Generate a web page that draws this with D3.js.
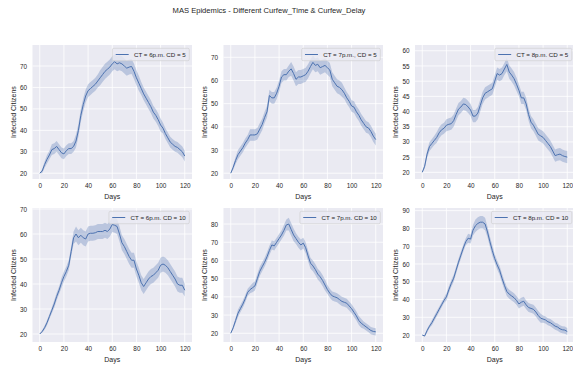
<!DOCTYPE html>
<html>
<head>
<meta charset="utf-8">
<script src="https://cdn.jsdelivr.net/npm/d3@7"></script>
<style>
  body { margin: 0; background: #fff; }
  text { font-family: "Liberation Sans", Arial, sans-serif; fill: #262626; }
</style>
</head>
<body>
<div id="chart"></div>
<script>
// DATA //
// days sampled every 2 days, 0..120
const days = d3.range(0, 121, 2);

const labels = ["CT = 6p.m. CD = 5", "CT = 7p.m., CD = 5", "CT = 8p.m. CD = 5",
                "CT = 6p.m. CD = 10", "CT = 7p.m. CD = 10", "CT = 8p.m. CD = 10"];

// mean infected citizens
const mean1 = [20,21,24,26.5,28.5,31,31.5,32.5,31,29.5,29,30.5,31.5,31.5,32.5,35,40,47,52,56,58.5,59.5,60.5,61.5,63,64.5,66,67.5,68.5,69.5,71,72,71,71.5,71,70,69,69.5,69.8,67.5,64.5,62,59.5,57,55,53,51,48.5,47,45,42.5,41,38.5,36.5,34.5,33.5,32.5,32,31,30,28];
const mean2 = [20,22.5,25.5,28,29.5,31,33,34.5,36.5,36.5,36.5,37,39,41,44,46.5,53.5,52.5,52.5,54.5,57.5,61.5,62.5,62.5,64,65,63,60.5,61.5,61.5,62,62.5,64,66,67.8,66.5,67,65.5,66,66.5,65.5,64.5,60.5,59,57.5,57,56,54.5,52.5,51,49,48.5,46.5,45,43,41.5,40,39.5,38,36,34.5];
const mean3 = [20,22,26,28.5,29.5,30.5,31.5,33,34,34.5,35.5,35.8,36,37,39,40.8,41.5,42.5,42.3,41.5,40.5,38.5,38.5,39.5,42,44.5,46,46.5,47,47.5,50,52.5,52,52.5,54,55.5,53,52,50.8,49,47,44.5,44.5,42.5,39,36.5,35.5,34,32.5,32,31.5,30.5,29.5,28.5,27,25.5,25.8,26,25.5,25.2,25];
const mean4 = [20,21,22.5,24.5,27,29.5,32,35,37.5,40.5,43,45,47.5,53,58.5,60,58.5,59.5,58.5,58,60,60.3,60.3,60.5,61,61,61,61.5,61,62,63.8,63.5,63,60,56.5,55,53,51,49.5,49.5,46,43.5,40.5,39,40.5,42,43,43.5,44.5,45.5,47.5,48,47.5,46.5,45,43.5,42,40,39.5,39.5,37.5];
const mean5 = [20,23,27,31,33.5,36,39,42.5,44,45,46,50,54,56.5,59,62,65.5,68.5,68,70,72,74,76.5,79.5,80,77,74,72,70,68.5,69.5,67,62.5,58.5,57,55,52.5,51,49,46.5,44,42,40.5,40,39.5,38.5,37.5,37,36.5,35,33.5,31.5,29.5,27,25.5,24.5,23.5,22.5,21.5,21,20.8];
const mean6 = [20,19.5,22.5,25,27,29.5,32,34.5,37,39.5,41.5,45.5,49,52,56.5,61,65,69,72.5,74.5,74,79,81.5,82.8,83.5,83.5,82.5,78,72.5,67.5,63,59.5,56.5,52,48,44.5,43,42,41,39.5,37.5,38.5,39,37,35.5,35,34.5,33,31,29.5,29,28.5,27.5,27,26,25,24.5,23.5,23,22.8,22];

// half width of the confidence band
const band1 = [0,1,1.5,2,2,2.5,2.5,2.5,2.5,2.5, 2.5,2.5,2.5,2.5,2.5,3,3,3,3,3, 3,3,3,3,3,3.5,3.5,3.5,3.5,3.5, 3.5,3.5,3.5,3.5,3.5,3.5,3.5,3.5,3.5,3.5, 3.5,3.5,3,3,3,3,3,3,3,3, 3,2.5,2.5,2.5,2.5,2.5,2.5,2.5,2.5,2.5, 2.5];
const band2 = [0,1,1.5,2,2,2,2,2,2.5,2.5, 2.5,2.5,2.5,2.5,2.5,2.5,2.5,2.5,2.5,2.5, 2.5,2.5,2.5,2.5,2.5,3,3,3,3,3, 3,3,3,3,3,3,3,3,3,3, 3,3,3,3,3,3,3,2.5,2.5,2.5, 2.5,2.5,2.5,2.5,2.5,2.5,2.5,2.5,2.5,2.5, 2.5];
const band3 = [0,0.8,1.2,1.5,1.5,1.5,1.8,1.8,1.8,1.8, 2,2,2,2,2,2,2,2,2,2, 2,2,2,2,2,2,2,2,2,2, 2,2,2,2,2,2.2,2.2,2.2,2.2,2.2, 2,2,2,2,2,2,2,2,2,2, 2,2,2,2,2,2,2,2,2,2, 2];
const band4 = [0,0.5,0.8,1,1,1.2,1.5,1.5,1.5,2, 2,2,2,2,2.5,3,3,3,3,3, 3,3,3,3,3,3,3,3,3,3, 3,3,3,3,3,3,3,3,3,3, 3,3,3,3,3,3,3,3,3,3, 3,3,3,3,3,3,3,3,3,3, 2.5];
const band5 = [0,1,1.5,2,2,2,2,2,2,2.5, 2.5,2.5,2.5,2.5,2.5,2.5,2.5,2.5,2.5,2.5, 2.5,2.5,3,3,3.5,3.5,3.5,3,3,3, 3,3,3,3,3,3,3,3,3,3, 2.5,2.5,2.5,2.5,2.5,2.5,2.5,2.5,2.5,2.5, 2.5,2.5,2.5,2.5,2.5,2,2,2,2,2, 2];
const band6 = [0,0.5,1,1,1.5,1.5,1.5,1.5,1.5,1.5, 2,2,2,2,2,2,2,2,2,2.5, 2.5,3,3.5,3.5,3.5,3.5,3.5,3,3,3, 2.5,2.5,2.5,2.5,2.5,2.5,2.5,2.5,2.5,2.5, 2.5,2.5,2.5,2.5,2.5,2.5,2.5,2.5,2.5,2.5, 2,2,2,2,2,2,2,2,2,2, 2];

// y ticks and axis limits per panel
const yTicks = [[20,30,40,50,60,70], [20,30,40,50,60,70], [20,25,30,35,40,45,50,55,60],
                [20,30,40,50,60,70], [20,30,40,50,60,70,80], [20,30,40,50,60,70,80,90]];
const yLimits = [[17.3,79.8], [17.5,75.3], [17.8,61.9], [16.8,70.4], [15.2,88.8], [16.1,91.5]];
const xTicks = [0,20,40,60,80,100,120];

const means = [mean1, mean2, mean3, mean4, mean5, mean6];
const bands = [band1, band2, band3, band4, band5, band6];

// DIMENSIONS //
const W = 573, H = 369;
const colX = [32.5, 223.5, 415], rowY = [45, 208];
const pw = 159.5, ph = 134;
const blue = "#4C72B0";

const svg = d3.select("#chart").append("svg")
    .attr("width", W).attr("height", H);

svg.append("text")
    .attr("x", 269).attr("y", 10)
    .attr("text-anchor", "middle").attr("dominant-baseline", "central")
    .style("font-size", "7.6px")
    .text("MAS Epidemics - Different Curfew_Time & Curfew_Delay");

means.forEach((m, i) => {
    const x0 = colX[i % 3], y0 = rowY[Math.floor(i / 3)];
    const g = svg.append("g").attr("transform", `translate(${x0},${y0})`);

    const x = d3.scaleLinear().domain([-6, 126]).range([0, pw]);
    const y = d3.scaleLinear().domain(yLimits[i]).range([ph, 0]);

    g.append("rect").attr("width", pw).attr("height", ph).attr("fill", "#EAEAF2");

    // grid
    g.selectAll(".gx").data(xTicks).join("line")
        .attr("x1", d => x(d)).attr("x2", d => x(d))
        .attr("y1", 0).attr("y2", ph)
        .attr("stroke", "#fff").attr("stroke-width", 0.8);
    g.selectAll(".gy").data(yTicks[i]).join("line")
        .attr("y1", d => y(d)).attr("y2", d => y(d))
        .attr("x1", 0).attr("x2", pw)
        .attr("stroke", "#fff").attr("stroke-width", 0.8);

    // axes (ticks only as labels, seaborn darkgrid)
    const ax = g.append("g").attr("transform", `translate(0,${ph})`)
        .call(d3.axisBottom(x).tickValues(xTicks).tickSize(0).tickPadding(4.5));
    const ay = g.append("g")
        .call(d3.axisLeft(y).tickValues(yTicks[i]).tickSize(0).tickPadding(5.5));
    [ax, ay].forEach(a => {
        a.select(".domain").remove();
        a.selectAll("text").style("font-size", "6.4px").attr("fill", "#262626")
            .style("font-family", "'Liberation Sans', Arial, sans-serif");
    });

    g.append("text").attr("x", pw / 2).attr("y", ph + 17.5)
        .attr("text-anchor", "middle").attr("dominant-baseline", "central")
        .style("font-size", "7px").text("Days");
    g.append("text")
        .attr("transform", `translate(-19.5,${ph / 2}) rotate(-90)`)
        .attr("text-anchor", "middle").attr("dominant-baseline", "central")
        .style("font-size", "7px").text("Infected Citizens");

    const clip = g.append("g");
    const b = bands[i];
    clip.append("path").datum(days)
        .attr("d", d3.area().x(d => x(d))
            .y0((d, k) => y(m[k] - b[k])).y1((d, k) => y(m[k] + b[k])))
        .attr("fill", blue).attr("fill-opacity", 0.3);
    clip.append("path").datum(days)
        .attr("d", d3.line().x(d => x(d)).y((d, k) => y(m[k])))
        .attr("fill", "none").attr("stroke", blue).attr("stroke-width", 1);

    // legend, upper right
    const lg = g.append("g");
    const txt = lg.append("text").style("font-size", "6.2px")
        .attr("dominant-baseline", "central").text(labels[i]);
    const tw = txt.node().getComputedTextLength();
    const bw = 3.3 + 13 + 5.3 + tw + 3.5, bh = 12.4;
    const bx = pw - 2.7 - bw, by = 3.3;
    lg.insert("rect", "text").attr("x", bx).attr("y", by).attr("width", bw).attr("height", bh)
        .attr("rx", 1.5).attr("fill", "#EAEAF2").attr("fill-opacity", 0.8)
        .attr("stroke", "#cccccc").attr("stroke-width", 0.6);
    lg.append("line").attr("x1", bx + 3.3).attr("x2", bx + 16.3)
        .attr("y1", by + bh / 2).attr("y2", by + bh / 2)
        .attr("stroke", blue).attr("stroke-width", 1);
    txt.attr("x", bx + 21.6).attr("y", by + bh / 2);
});
</script>
</body>
</html>
